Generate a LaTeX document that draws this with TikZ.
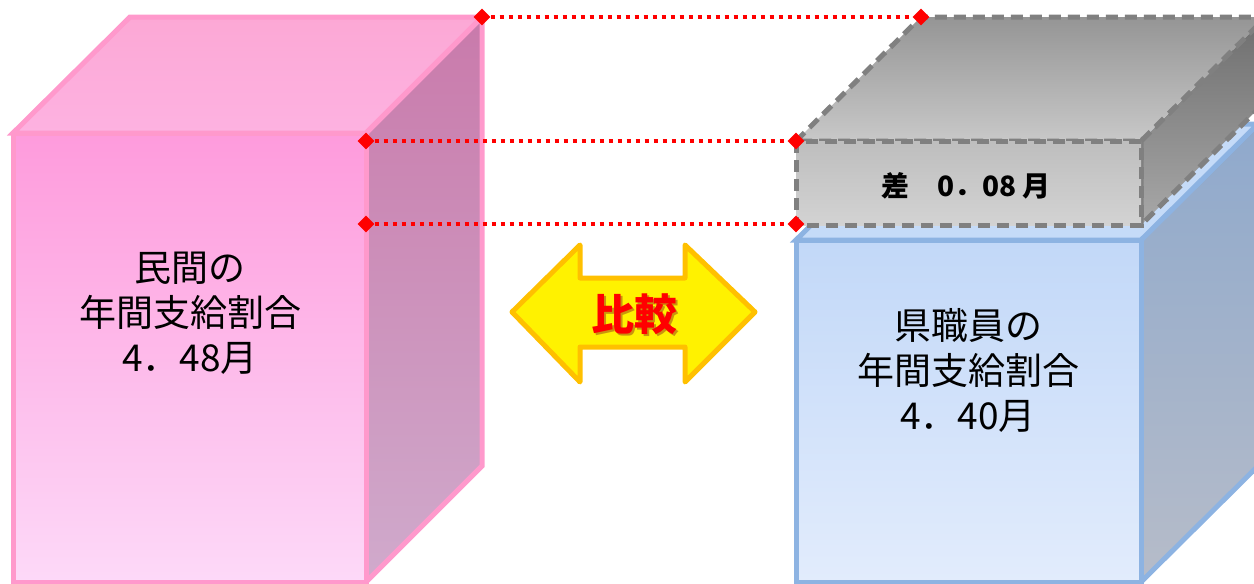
\documentclass[tikz,border=0pt]{standalone}
\usepackage{fontspec}
\newfontfamily\cjk{Noto Sans CJK JP}
\usetikzlibrary{shapes.geometric}
\definecolor{pinkedge}{HTML}{FF99CC}
\definecolor{blueedge}{HTML}{8DB3E2}
\definecolor{grayedge}{HTML}{808080}
\definecolor{arrowedge}{HTML}{FFC000}
\definecolor{pkSideT}{HTML}{C97AAB}
\definecolor{pkSideB}{HTML}{D0AACC}
\definecolor{pkFrontT}{HTML}{FE9BDC}
\definecolor{pkFrontM}{HTML}{FFA9F2}
\definecolor{pkFrontB}{HTML}{FDD9F8}
\definecolor{pkTopT}{HTML}{FCA8D5}
\definecolor{pkTopB}{HTML}{FDB2E1}
\definecolor{blSideT}{HTML}{8FA9CC}
\definecolor{blSideB}{HTML}{B6BCC9}
\definecolor{blFrontT}{HTML}{C2D8F8}
\definecolor{blFrontB}{HTML}{E2ECFC}
\definecolor{blTop}{HTML}{C5DBF8}
\definecolor{gySideT}{HTML}{6E6E6E}
\definecolor{gySideB}{HTML}{A8A8A8}
\definecolor{gyTopT}{HTML}{959595}
\definecolor{gyTopB}{HTML}{C8C8C8}
\definecolor{gyFrontT}{HTML}{BEBEBE}
\definecolor{gyFrontB}{HTML}{D3D3D3}
\definecolor{shadowred}{HTML}{8A2020}
\tikzset{
  pinkface/.style={draw=pinkedge, line width=5pt, line join=miter},
  blueface/.style={draw=blueedge, line width=5pt, line join=miter},
  grayface/.style={draw=grayedge, line width=5pt, dash pattern=on 12pt off 7pt},
  marker/.style={diamond, fill=red, inner sep=0pt, minimum size=17pt},
  guide/.style={red, line width=4pt, dash pattern=on 4pt off 5pt},
  label/.style={font=\cjk\fontsize{37}{45}\selectfont, align=center, text=black},
  cmptext/.style={font=\cjk\bfseries\fontsize{43}{46}\selectfont},
}
\begin{document}
\begin{tikzpicture}[x=1pt,y=-1pt]
\useasboundingbox (0,0) rectangle (1254,584);
\clip (0,0) rectangle (1254,584);
% ---- left (pink) cube
\path[pinkface, top color=pkSideT, bottom color=pkSideB]
  (366,133) -- (482,17) -- (482,466) -- (366,582) -- cycle;
\path[pinkface, top color=pkFrontT, middle color=pkFrontM, bottom color=pkFrontB]
  (13,133) rectangle (366,582);
\path[pinkface, top color=pkTopT, bottom color=pkTopB]
  (13,133) -- (130,17) -- (482,17) -- (366,133) -- cycle;
% ---- right (blue) cube
\path[blueface, top color=blSideT, bottom color=blSideB]
  (1141,240) -- (1258,124) -- (1258,466) -- (1141,582) -- cycle;
\path[blueface, top color=blFrontT, bottom color=blFrontB]
  (796,240) rectangle (1141,582);
\path[blueface, fill=blTop]
  (796,240) -- (913,124) -- (1258,124) -- (1141,240) -- cycle;
% ---- gray difference block
\path[grayface, top color=gySideT, bottom color=gySideB]
  (1141,141) -- (1266,17) -- (1266,101) -- (1141,225) -- cycle;
\path[grayface, top color=gyTopT, bottom color=gyTopB]
  (796,141) -- (921,17) -- (1266,17) -- (1141,141) -- cycle;
\path[grayface, top color=gyFrontT, bottom color=gyFrontB]
  (796,141) rectangle (1141,225);
% ---- texts
\node[label] (left) at (190,313) {民間の\\年間支給割合\\4．48月};
\node[label] (right) at (968,370) {県職員の\\年間支給割合\\4．40月};
\node[font=\cjk\bfseries\fontsize{28}{30}\selectfont, text=black] (diff) at (966,186) {差　0．08 月};
% ---- comparison arrow
\path[draw=arrowedge, fill=yellow, line width=5pt, line join=round]
  (512,312) -- (580,245) -- (580,278) -- (685,278) -- (685,245) -- (755,312)
  -- (685,382) -- (685,347) -- (580,347) -- (580,382) -- cycle;
\node[cmptext, text=shadowred, opacity=0.45] (cmpshadow) at (636,316) {比較};
\node[cmptext, text=red] (cmp) at (634,314) {比較};
% ---- guide lines
\node[marker] (a1) at (482,17) {};
\node[marker] (a2) at (921,17) {};
\node[marker] (b1) at (366,141) {};
\node[marker] (b2) at (796,141) {};
\node[marker] (c1) at (366,224) {};
\node[marker] (c2) at (796,224) {};
\draw[guide] (a1) -- (a2);
\draw[guide] (b1) -- (b2);
\draw[guide] (c1) -- (c2);
\end{tikzpicture}
\end{document}
